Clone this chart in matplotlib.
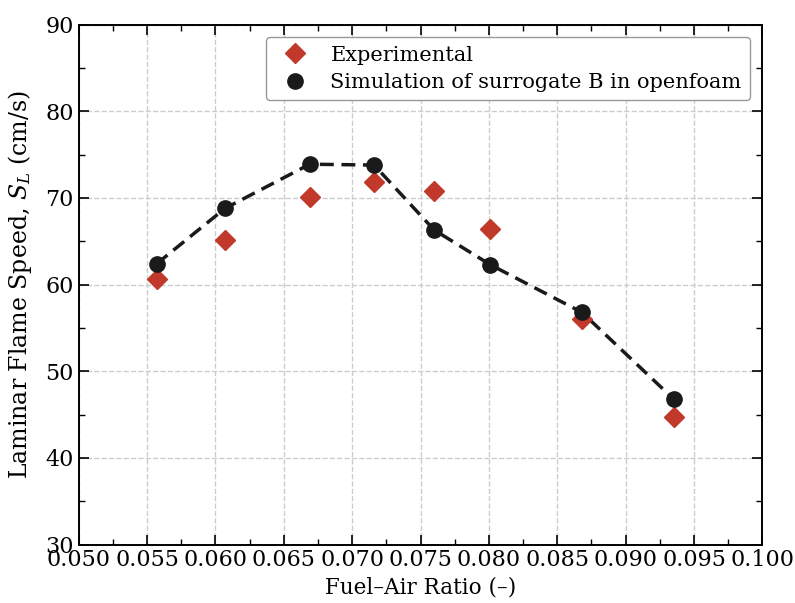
import matplotlib.pyplot as plt
from matplotlib.ticker import MultipleLocator

# fuel-air ratio and laminar flame speed (cm/s)
far_exp = [0.0557, 0.0607, 0.0669, 0.0716, 0.0760, 0.0801, 0.0868, 0.0935]
sl_exp = [60.6, 65.1, 70.1, 71.8, 70.8, 66.4, 56.0, 44.7]

far_sim = [0.0557, 0.0607, 0.0669, 0.0716, 0.0760, 0.0801, 0.0868, 0.0935]
sl_sim = [62.4, 68.8, 73.9, 73.8, 66.3, 62.3, 56.8, 46.8]

plt.rcParams['font.family'] = 'DejaVu Serif'
plt.rcParams['mathtext.fontset'] = 'dejavuserif'

fig, ax = plt.subplots(figsize=(7.95, 6.03), dpi=100)
fig.subplots_adjust(left=0.099, right=0.959, top=0.959, bottom=0.097)

ax.plot(far_sim, sl_sim, color='#1a1a1a', linewidth=2.5, dashes=(4, 2.2), zorder=2)
ax.plot(far_exp, sl_exp, 'D', color='#c0392b', markersize=10, linestyle='none',
        label='Experimental', zorder=3)
ax.plot(far_sim, sl_sim, 'o', color='#1a1a1a', markersize=11, linestyle='none',
        label='Simulation of surrogate B in openfoam', zorder=4)

ax.set_xlim(0.05, 0.10)
ax.set_ylim(30, 90)
ax.xaxis.set_major_locator(MultipleLocator(0.005))
ax.xaxis.set_minor_locator(MultipleLocator(0.0025))
ax.yaxis.set_major_locator(MultipleLocator(10))
ax.yaxis.set_minor_locator(MultipleLocator(5))
ax.tick_params(which='both', direction='in', top=True, right=True, labelsize=16)
ax.tick_params(which='major', length=7, width=1.2)
ax.tick_params(which='minor', length=4, width=1)
ax.xaxis.set_major_formatter(plt.FuncFormatter(lambda v, p: f'{v:.3f}'))
for s in ax.spines.values():
    s.set_linewidth(1.4)

ax.grid(True, which='major', linestyle='--', color='#cccccc', linewidth=1)
ax.set_axisbelow(True)

ax.set_xlabel('Fuel\u2013Air Ratio (\u2013)', fontsize=15.5)
ax.set_ylabel('Laminar Flame Speed, $S_L$ (cm/s)', fontsize=17, labelpad=8)

ax.legend(loc='upper right', fontsize=15, framealpha=1, edgecolor='#999999',
          borderpad=0.4, handletextpad=0.7, borderaxespad=0.6, labelspacing=0.4)

plt.savefig('out.png', dpi=100)
